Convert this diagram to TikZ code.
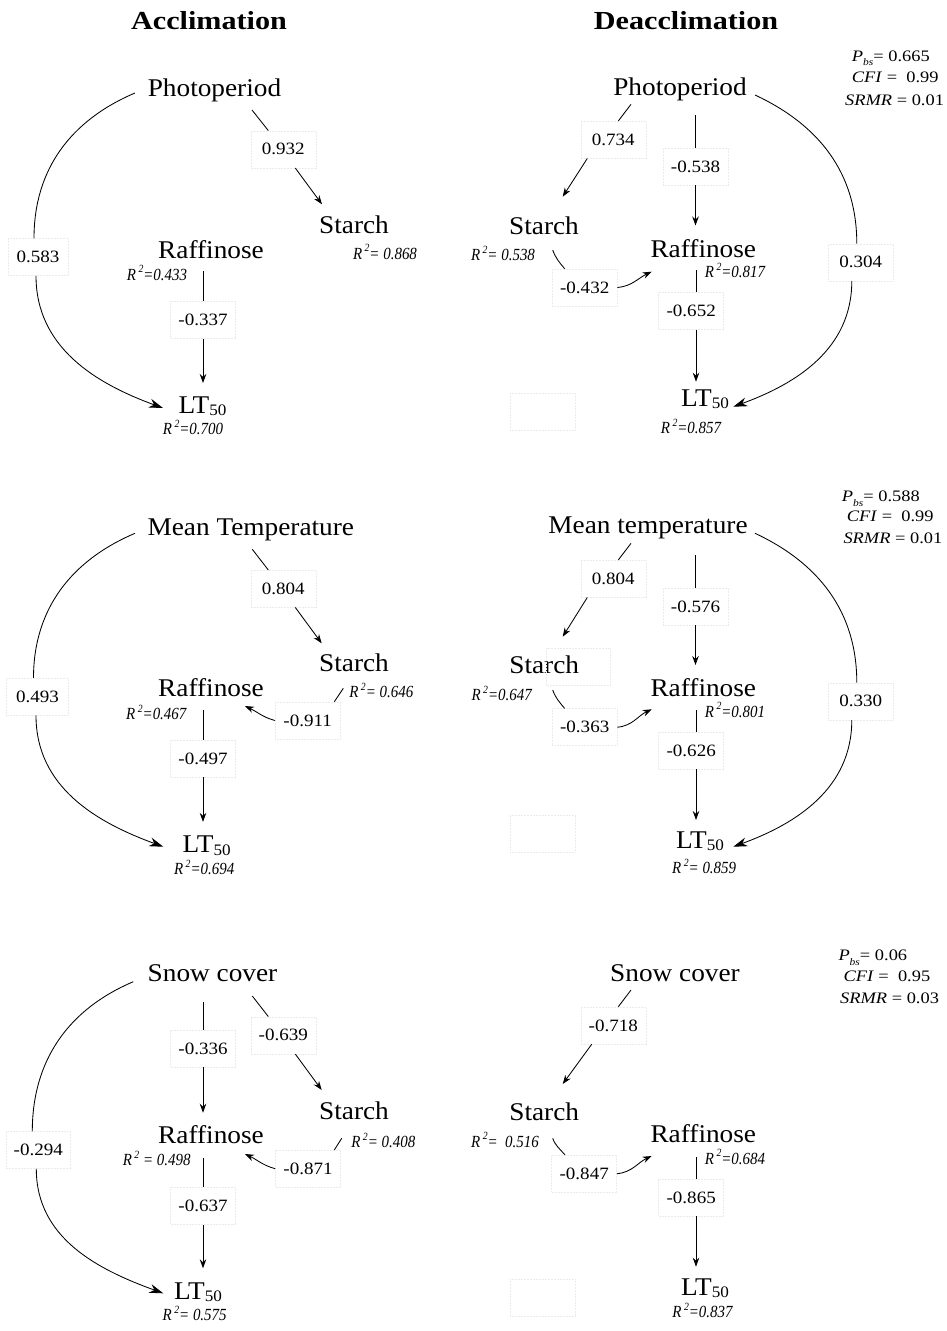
\documentclass[tikz,border=0pt]{standalone}
\usepackage{fontspec}
\setmainfont{Liberation Serif}
\usepackage{graphicx}
\usetikzlibrary{arrows.meta,calc}

\newcommand{\VarT}[1]{\scalebox{1.07}[1]{\fontsize{25.5}{28}\selectfont #1}}
\newcommand{\NumT}[1]{\scalebox{1.1}[1]{\fontsize{17.3}{20}\selectfont #1}}
\newcommand{\RsqT}[1]{\scalebox{0.88}[1]{\fontsize{17}{19}\selectfont\itshape R\,\raisebox{0.42em}{\fontsize{11}{11}\selectfont 2}#1}}
\newcommand{\LTT}{LT\raisebox{-0.1em}{\fontsize{16}{16}\selectfont 50}}
\newcommand{\TitleT}[1]{\scalebox{1.16}[1]{\fontsize{26}{30}\selectfont\bfseries #1}}
\newcommand{\FitT}[1]{\scalebox{1.15}[1]{\fontsize{16}{18}\selectfont #1}}
\newcommand{\Pbs}{\textit{P}\raisebox{-0.3em}{\fontsize{10}{10}\selectfont\itshape bs}}

\tikzset{
  var/.style={anchor=base, inner sep=0pt, text height=17.5pt, text depth=5.5pt},
  rsq/.style={inner sep=0pt},
  lbl/.style={draw=black!8, densely dotted, line width=0.5pt, minimum width=65pt, minimum height=37pt, inner sep=0pt},
  con/.style={line width=0.85pt},
  arr/.style={con, -{Stealth[length=9pt,width=6.5pt]}},
  bigarr/.style={con, -{Stealth[length=14pt,width=9pt]}},
  fitstat/.style={anchor=base west, inner sep=0pt},
  ttl/.style={anchor=base, inner sep=0pt}
}

\begin{document}
\begin{tikzpicture}[x=1pt,y=1pt]
\fill[white] (0,0) rectangle (947,-1331);
\useasboundingbox (0,0) rectangle (947,-1331);

% titles
\node[ttl] (tA) at (209,-29.3) {\TitleT{Acclimation}};
\node[ttl] (tD) at (686,-29.3) {\TitleT{Deacclimation}};

% ================= Panel A1
\node[var] (P1) at (214.5,-96.5) {\VarT{Photoperiod}};
\node[var] (S1) at (354,-233.3) {\VarT{Starch}};
\node[var] (R1) at (211,-258) {\VarT{Raffinose}};
\node[var] (L1) at (202.5,-413) {\VarT{\LTT}};
\node[rsq] (r1s) at (385,-252) {\RsqT{= 0.868}};
\node[rsq] (r1r) at (157,-273) {\RsqT{=0.433}};
\node[rsq] (r1l) at (193,-427.5) {\RsqT{=0.700}};
\node[lbl] (a932) at (283.3,-149.3) {\NumT{0.932}};
\node[lbl] (a337) at (203,-320) {\NumT{-0.337}};
\node[lbl,minimum width=60pt] (a583) at (38,-257) {\NumT{0.583}};
\draw[con] ($(P1)+(37.5,-19.5)$) -- ($(a932.north)+(-15,0)$);
\draw[arr] ($(a932.south)+(12,0)$) -- ($(S1)+(-32,23)$);
\draw[con] ($(R1)+(-8,-19)$) -- (a337.north);
\draw[arr] (a337.south) -- ($(L1)+(0.5,24)$);
\draw[con] ($(P1)+(-79.5,-2.5)$) to[out=203,in=90] ($(a583.north)+(-4,0)$);
\draw[bigarr] ($(a583.south)+(-2,0)$) to[out=-90,in=160] ($(L1)+(-39.5,-1)$);

% ================= Panel D1
\node[var] (P2) at (680,-95) {\VarT{Photoperiod}};
\node[var] (S2) at (544,-234) {\VarT{Starch}};
\node[var] (R2) at (703.3,-257) {\VarT{Raffinose}};
\node[var] (L2) at (705,-406) {\VarT{\LTT}};
\node[rsq] (r2s) at (503,-253.3) {\RsqT{= 0.538}};
\node[rsq] (r2r) at (735,-270.3) {\RsqT{=0.817}};
\node[rsq] (r2l) at (691,-426.7) {\RsqT{=0.857}};
\node[lbl] (b734) at (613.3,-139.7) {\NumT{0.734}};
\node[lbl] (b538) at (695.5,-166.7) {\NumT{-0.538}};
\node[lbl] (b432) at (584.7,-287.5) {\NumT{-0.432}};
\node[lbl] (b652) at (691.2,-311.2) {\NumT{-0.652}};
\node[lbl] (b304) at (860.8,-262.3) {\NumT{0.304}};
\node[lbl] (e1) at (542.5,-411.7) {};
\node[fitstat] (f1a) at (851.7,-61) {\FitT{\Pbs= 0.665}};
\node[fitstat] (f1b) at (851.7,-82.3) {\FitT{\textit{CFI} =\ \ 0.99}};
\node[fitstat] (f1c) at (845,-105) {\FitT{\textit{SRMR} = 0.01}};
\draw[con] ($(P2)+(-49,-15.3)$) -- ($(b734.north)+(5,0)$);
\draw[arr] ($(b734.south)+(-26,0)$) -- ($(S2)+(18.7,31.3)$);
\draw[con] ($(P2)+(15.5,-26)$) -- (b538.north);
\draw[arr] (b538.south) -- ($(R2)+(-7.8,25.5)$);
\draw[con] ($(S2)+(8.7,-22)$) to[out=-70,in=130] ($(b432.north)+(-20,0)$);
\draw[arr] (b432.east) to[out=5,in=-155] ($(R2)+(-51.6,-20.7)$);
\draw[con] ($(R2)+(-7.3,-19)$) -- ($(b652.north)+(4.8,0)$);
\draw[arr] ($(b652.south)+(4.8,0)$) -- ($(L2)+(-9,18.3)$);
\draw[con] ($(P2)+(75,-6)$) to[out=-25,in=90] ($(b304.north)+(-4,0)$);
\draw[bigarr] ($(b304.south)+(-9,0)$) to[out=-90,in=20] ($(L2)+(28.3,-6.7)$);

% ================= Panel A2
\node[var] (M3) at (250.8,-535) {\VarT{Mean Temperature}};
\node[var] (S3) at (354,-671.7) {\VarT{Starch}};
\node[var] (R3) at (211,-696.7) {\VarT{Raffinose}};
\node[var] (L3) at (206.7,-852.7) {\VarT{\LTT}};
\node[rsq] (r3s) at (381.3,-690.8) {\RsqT{= 0.646}};
\node[rsq] (r3r) at (156.3,-712.5) {\RsqT{=0.467}};
\node[rsq] (r3l) at (204.2,-867.5) {\RsqT{=0.694}};
\node[lbl] (c804) at (283.3,-588.7) {\NumT{0.804}};
\node[lbl] (c911) at (307.7,-720.5) {\NumT{-0.911}};
\node[lbl] (c497) at (203,-758.7) {\NumT{-0.497}};
\node[lbl,minimum width=61.6pt] (c493) at (37.5,-696.7) {\NumT{0.493}};
\draw[con] ($(M3)+(1.5,-20.3)$) -- ($(c804.north)+(-15,0)$);
\draw[arr] ($(c804.south)+(12,0)$) -- ($(S3)+(-32.3,22.4)$);
\draw[con] ($(S3)+(-10.7,-22.6)$) -- ($(c911.north)+(26.6,0)$);
\draw[arr] (c911.west) to[out=165,in=-25] ($(R3)+(34,-15.3)$);
\draw[con] ($(R3)+(-8,-19.3)$) -- (c497.north);
\draw[arr] (c497.south) -- ($(L3)+(-3.7,24.8)$);
\draw[con] ($(M3)+(-115.8,-4.3)$) to[out=203,in=90] ($(c493.north)+(-4,0)$);
\draw[bigarr] ($(c493.south)+(-1.5,0)$) to[out=-90,in=160] ($(L3)+(-43.4,0)$);

% ================= Panel D2
\node[var] (M4) at (648,-533.3) {\VarT{Mean temperature}};
\node[var] (S4) at (544.2,-673.3) {\VarT{Starch}};
\node[var] (R4) at (703.3,-696.7) {\VarT{Raffinose}};
\node[var] (L4) at (700,-848) {\VarT{\LTT}};
\node[rsq] (r4s) at (501.7,-693.3) {\RsqT{=0.647}};
\node[rsq] (r4r) at (735,-710) {\RsqT{=0.801}};
\node[rsq] (r4l) at (704.2,-866.7) {\RsqT{= 0.859}};
\node[lbl] (d804) at (613.3,-578.7) {\NumT{0.804}};
\node[lbl] (d576) at (695.5,-606.7) {\NumT{-0.576}};
\node[lbl] (d363) at (584.7,-727.2) {\NumT{-0.363}};
\node[lbl] (d626) at (691.2,-750.5) {\NumT{-0.626}};
\node[lbl] (d330) at (860.8,-701.3) {\NumT{0.330}};
\node[lbl,minimum width=63.3pt] (e2) at (578.3,-666.7) {};
\node[lbl] (e3) at (542.5,-833.3) {};
\node[fitstat] (f2a) at (841.7,-501.7) {\FitT{\Pbs=\ 0.588}};
\node[fitstat] (f2b) at (846.7,-521.7) {\FitT{\textit{CFI} =\ \ 0.99}};
\node[fitstat] (f2c) at (843.3,-543.3) {\FitT{\textit{SRMR} = 0.01}};
\draw[con] ($(M4)+(-17,-16)$) -- ($(d804.north)+(5,0)$);
\draw[arr] ($(d804.south)+(-26,0)$) -- ($(S4)+(18.5,30.6)$);
\draw[con] ($(M4)+(47.5,-27.7)$) -- (d576.north);
\draw[arr] (d576.south) -- ($(R4)+(-7.8,25.7)$);
\draw[con] ($(S4)+(8.5,-22.7)$) to[out=-70,in=130] ($(d363.north)+(-20,0)$);
\draw[arr] (d363.east) to[out=5,in=-155] ($(R4)+(-51.6,-18.6)$);
\draw[con] ($(R4)+(-7.3,-19.3)$) -- ($(d626.north)+(4.8,0)$);
\draw[arr] ($(d626.south)+(4.8,0)$) -- ($(L4)+(-4,22)$);
\draw[con] ($(M4)+(107,-6)$) to[out=-25,in=90] ($(d330.north)+(-4,0)$);
\draw[bigarr] ($(d330.south)+(-9,0)$) to[out=-90,in=20] ($(L4)+(33.3,-4.7)$);

% ================= Panel A3
\node[var] (N5) at (212.5,-981.7) {\VarT{Snow cover}};
\node[var] (S5) at (354,-1119.3) {\VarT{Starch}};
\node[var] (R5) at (211,-1143.3) {\VarT{Raffinose}};
\node[var] (L5) at (198,-1299) {\VarT{\LTT}};
\node[rsq] (r5s) at (383.3,-1140.8) {\RsqT{= 0.408}};
\node[rsq] (r5r) at (156.7,-1158.3) {\RsqT{ = 0.498}};
\node[rsq] (r5l) at (194.7,-1313.3) {\RsqT{= 0.575}};
\node[lbl] (g336) at (203,-1048.7) {\NumT{-0.336}};
\node[lbl] (g639) at (283.3,-1035.3) {\NumT{-0.639}};
\node[lbl] (g871) at (308,-1168.7) {\NumT{-0.871}};
\node[lbl] (g637) at (203,-1206.2) {\NumT{-0.637}};
\node[lbl,minimum width=64.7pt] (g294) at (38.3,-1150) {\NumT{-0.294}};
\draw[con] ($(N5)+(-9.5,-26)$) -- (g336.north);
\draw[arr] (g336.south) -- ($(R5)+(-8,24.6)$);
\draw[con] ($(N5)+(39.8,-20.3)$) -- ($(g639.north)+(-15,0)$);
\draw[arr] ($(g639.south)+(12,0)$) -- ($(S5)+(-32.3,23.3)$);
\draw[con] ($(S5)+(-12.3,-25)$) -- ($(g871.north)+(26.3,0)$);
\draw[arr] (g871.west) to[out=165,in=-25] ($(R5)+(34,-16.7)$);
\draw[con] ($(R5)+(-8,-21)$) -- (g637.north);
\draw[arr] (g637.south) -- ($(L5)+(5,24.7)$);
\draw[con] ($(N5)+(-79.2,-6)$) to[out=203,in=90] ($(g294.north)+(-6,0)$);
\draw[bigarr] ($(g294.south)+(-2,0)$) to[out=-90,in=160] ($(L5)+(-34.7,-0.3)$);

% ================= Panel D3
\node[var] (N6) at (675,-981.7) {\VarT{Snow cover}};
\node[var] (S6) at (544.2,-1120) {\VarT{Starch}};
\node[var] (R6) at (703.3,-1142.7) {\VarT{Raffinose}};
\node[var] (L6) at (705,-1295) {\VarT{\LTT}};
\node[rsq] (r6s) at (505,-1140) {\RsqT{=\ \ 0.516}};
\node[rsq] (r6r) at (735,-1157) {\RsqT{=0.684}};
\node[rsq] (r6l) at (702.5,-1310.3) {\RsqT{=0.837}};
\node[lbl] (h718) at (613.3,-1025.5) {\NumT{-0.718}};
\node[lbl] (h847) at (584.2,-1173.7) {\NumT{-0.847}};
\node[lbl] (h865) at (691.2,-1197.5) {\NumT{-0.865}};
\node[lbl] (e4) at (542.5,-1298) {};
\node[fitstat] (f3a) at (838.3,-960.7) {\FitT{\Pbs= 0.06}};
\node[fitstat] (f3b) at (843.3,-981.7) {\FitT{\textit{CFI} =\ \ 0.95}};
\node[fitstat] (f3c) at (840,-1003.3) {\FitT{\textit{SRMR} = 0.03}};
\draw[con] ($(N6)+(-44,-14.3)$) -- ($(h718.north)+(5,0)$);
\draw[arr] ($(h718.south)+(-21.6,0)$) -- ($(S6)+(18.5,30)$);
\draw[con] ($(S6)+(8.5,-24.3)$) to[out=-70,in=130] ($(h847.north)+(-19.2,0)$);
\draw[arr] (h847.east) to[out=5,in=-155] ($(R6)+(-51.6,-19.3)$);
\draw[con] ($(R6)+(-7.3,-20.6)$) -- ($(h865.north)+(4.8,0)$);
\draw[arr] ($(h865.south)+(4.8,0)$) -- ($(L6)+(-9,22.3)$);
\end{tikzpicture}
\end{document}
